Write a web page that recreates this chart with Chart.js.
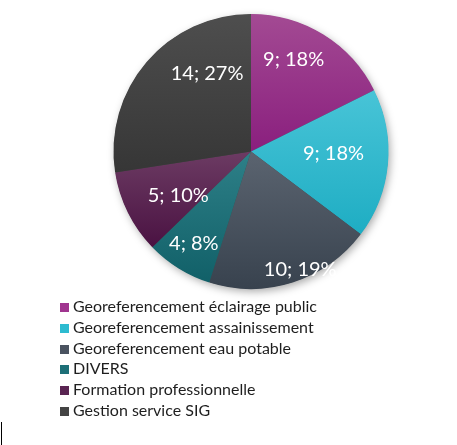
<!DOCTYPE html>
<html lang="fr">
<head>
  <meta charset="UTF-8">
  <title>Répartition des activités</title>
  <script src="https://cdn.jsdelivr.net/npm/chart.js"></script>
  <style>
    html, body {
      margin: 0;
      padding: 0;
      background: #fff;
      width: 457px;
      height: 445px;
      overflow: hidden;
    }
    #wrap {
      position: relative;
      width: 457px;
      height: 445px;
    }
    #pie {
      position: absolute;
      left: 0;
      top: 0;
    }
    #legend {
      position: absolute;
      left: 60px;
      top: 296px;
      font-family: Lato, "Open Sans", sans-serif;
      font-size: 16px;
      color: #1e1e1e;
      line-height: 20.8px;
    }
    #legend div {
      white-space: nowrap;
    }
    #legend span.box {
      display: inline-block;
      width: 9px;
      height: 9px;
      margin-right: 4px;
      vertical-align: 0px;
    }
    #bar {
      position: absolute;
      left: 1px;
      top: 422px;
      width: 1px;
      height: 23px;
      background: #000;
    }
  </style>
</head>
<body>
  <div id="wrap">
    <canvas id="pie" width="457" height="445"></canvas>
    <div id="legend"></div>
    <div id="bar"></div>
  </div>
  <script>
    // Données
    const categories = [
      'Georeferencement éclairage public',
      'Georeferencement assainissement',
      'Georeferencement eau potable',
      'DIVERS',
      'Formation professionnelle',
      'Gestion service SIG'
    ];
    const values = [9, 9, 10, 4, 5, 14];
    const percents = [18, 18, 19, 8, 10, 27];

    // Couleurs : haut (clair) et bas (foncé) du dégradé de chaque part
    const topColors = ['#a34a93', '#48c4d7', '#5b6470', '#2e8088', '#6c3b63', '#4e4e4e'];
    const bottomColors = ['#8a1f7e', '#1eadc3', '#38424e', '#116068', '#4a1242', '#363636'];
    const legendColors = ['#a0358f', '#2dbbd0', '#4a5360', '#1d6f77', '#5a2552', '#444444'];

    // Position des étiquettes : décalage d'angle (degrés) et fraction du rayon
    const labelPlacement = [[-7, 0.74], [-4, 0.60], [-5, 0.93], [0, 0.79], [-5, 0.62], [20, 0.65]];

    // Étendue verticale d'une part (pour un dégradé propre à chaque part)
    function sliceYRange(i, cx, cy, r) {
      const total = values.reduce((a, b) => a + b, 0);
      let cum = 0;
      for (let k = 0; k < i; k++) cum += values[k];
      const a0 = -Math.PI / 2 + 2 * Math.PI * cum / total;
      const a1 = a0 + 2 * Math.PI * values[i] / total;
      const ys = [cy, cy + r * Math.sin(a0), cy + r * Math.sin(a1)];
      [Math.PI / 2, -Math.PI / 2, 3 * Math.PI / 2].forEach(a => {
        if (a >= a0 && a <= a1) ys.push(cy + r * Math.sin(a));
      });
      return [Math.min(...ys), Math.max(...ys)];
    }

    function sliceGradient(context) {
      const i = context.dataIndex;
      const chart = context.chart;
      const area = chart.chartArea;
      if (!area) return bottomColors[i];
      const cx = (area.left + area.right) / 2;
      const cy = (area.top + area.bottom) / 2;
      const r = Math.min(area.right - area.left, area.bottom - area.top) / 2;
      const [y0, y1] = sliceYRange(i, cx, cy, r);
      const g = chart.ctx.createLinearGradient(0, y0, 0, y1);
      g.addColorStop(0, topColors[i]);
      g.addColorStop(1, bottomColors[i]);
      return g;
    }

    // Ombre portée derrière le camembert
    const shadowPlugin = {
      id: 'pieShadow',
      beforeDatasetsDraw(chart) {
        const arc = chart.getDatasetMeta(0).data[0];
        if (!arc) return;
        const ctx = chart.ctx;
        ctx.save();
        ctx.shadowColor = 'rgba(0,0,0,0.35)';
        ctx.shadowBlur = 8;
        ctx.shadowOffsetX = 2;
        ctx.shadowOffsetY = 3;
        ctx.fillStyle = '#444';
        ctx.beginPath();
        ctx.arc(arc.x, arc.y, arc.outerRadius - 0.5, 0, Math.PI * 2);
        ctx.fill();
        ctx.restore();
      }
    };

    // Étiquettes "valeur; pourcentage"
    const labelPlugin = {
      id: 'sliceLabels',
      afterDatasetsDraw(chart) {
        const ctx = chart.ctx;
        const meta = chart.getDatasetMeta(0);
        ctx.save();
        ctx.font = '20px Lato, "Open Sans", sans-serif';
        ctx.fillStyle = '#ffffff';
        ctx.textAlign = 'center';
        ctx.textBaseline = 'middle';
        meta.data.forEach((arc, i) => {
          const p = arc.getProps(['x', 'y', 'startAngle', 'endAngle', 'outerRadius'], true);
          const mid = (p.startAngle + p.endAngle) / 2 + labelPlacement[i][0] * Math.PI / 180;
          const r = p.outerRadius * labelPlacement[i][1];
          ctx.fillText(values[i] + '; ' + percents[i] + '%', p.x + Math.cos(mid) * r, p.y + Math.sin(mid) * r);
        });
        ctx.restore();
      }
    };

    new Chart(document.getElementById('pie'), {
      type: 'pie',
      data: {
        labels: categories,
        datasets: [{
          data: values,
          backgroundColor: sliceGradient,
          borderWidth: 0
        }]
      },
      options: {
        responsive: false,
        animation: false,
        layout: {
          padding: { left: 113, right: 68, top: 14, bottom: 156 }
        },
        plugins: {
          legend: { display: false },
          tooltip: { enabled: false }
        }
      },
      plugins: [shadowPlugin, labelPlugin]
    });

    // Légende HTML
    const legend = document.getElementById('legend');
    categories.forEach((c, i) => {
      const row = document.createElement('div');
      const box = document.createElement('span');
      box.className = 'box';
      box.style.background = legendColors[i];
      row.appendChild(box);
      row.appendChild(document.createTextNode(c));
      legend.appendChild(row);
    });
  </script>
</body>
</html>
